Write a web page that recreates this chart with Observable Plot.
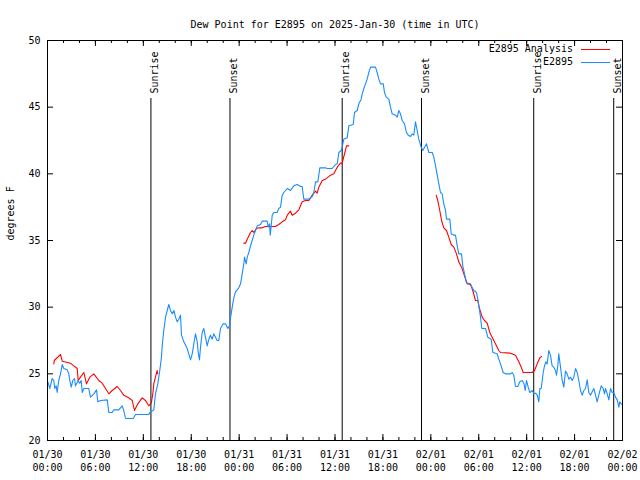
<!DOCTYPE html>
<html><head><meta charset="utf-8">
<script src="https://cdn.jsdelivr.net/npm/d3@7"></script>
<script src="https://cdn.jsdelivr.net/npm/@observablehq/plot@0.6"></script>
<style>
body{margin:0;background:#fff;}
#wrap{position:relative;width:640px;height:480px;font-family:"DejaVu Sans Mono",monospace;}
#legend{position:absolute;left:0;top:0;pointer-events:none;}
</style></head><body><div id="wrap"></div>
<script>
const title = "Dew Point for E2895 on 2025-Jan-30 (time in UTC)";
const yLabel = "degrees F";
const seriesNames = ["E2895 Analysis", "E2895"];
const seriesColors = ["#ff0000", "#1a8cff"];
const startTime = "2025-01-30T00:00:00Z";
const endTime = "2025-02-02T00:00:00Z";
const yTicks = [20, 25, 30, 35, 40, 45, 50];
const eventNames = ["Sunrise", "Sunset", "Sunrise", "Sunset", "Sunrise", "Sunset"];
const eventTimes = ["2025-01-30T12:57Z", "2025-01-30T22:51Z", "2025-01-31T12:54Z", "2025-01-31T22:50Z", "2025-02-01T12:53Z", "2025-02-01T22:54Z"];

// hours since 2025-01-30 00:00 UTC
const blueHours = [0.05,0.29,0.59,0.79,0.91,1.09,1.21,1.41,1.63,1.84,2.04,2.47,2.67,2.79,2.97,3.17,3.38,3.51,3.84,4.04,4.22,4.35,4.55,5.17,5.38,5.80,6.14,6.30,6.64,7.48,7.68,8.10,8.30,8.93,9.35,9.55,9.77,10.73,11.02,12.68,12.81,13.31,13.52,13.81,14.06,14.27,14.36,14.56,14.78,14.99,15.19,15.40,15.61,15.82,16.03,16.24,16.44,16.65,16.78,17.07,17.49,17.69,17.91,18.12,18.32,18.53,18.75,18.87,19.03,19.16,19.37,19.57,19.78,20.00,20.20,20.41,20.62,20.82,21.04,21.25,21.45,21.66,22.00,22.29,22.58,22.79,22.92,23.13,23.33,23.54,23.95,24.17,24.38,24.58,24.67,24.88,25.01,25.21,25.42,25.63,25.83,26.05,26.26,26.67,26.88,27.51,27.64,27.80,27.89,28.01,28.14,28.34,28.76,28.96,29.18,29.39,29.59,30.02,30.43,30.84,31.27,31.68,31.89,32.09,32.72,33.15,33.35,33.56,33.85,34.10,34.81,35.02,35.65,36.06,36.28,36.48,36.78,36.90,37.10,37.53,37.73,38.28,38.44,38.78,38.98,39.28,39.41,39.61,39.82,40.03,40.23,40.45,41.07,41.28,41.49,41.70,42.04,42.20,42.41,42.74,42.95,43.16,43.58,43.79,43.99,44.20,44.41,44.70,44.95,45.17,45.45,45.67,45.87,46.08,46.29,46.49,46.79,46.99,47.46,47.75,48.17,48.37,48.59,48.80,49.00,49.21,49.42,49.62,49.84,49.96,50.38,50.55,50.88,51.09,51.30,51.50,51.84,52.00,52.22,52.43,52.75,53.06,53.38,53.72,53.88,54.06,54.22,54.38,54.85,55.13,55.56,55.76,56.31,56.51,56.72,57.06,57.35,57.98,58.19,58.39,58.60,58.89,59.14,59.44,59.64,59.82,59.98,60.19,60.39,60.69,60.89,61.11,61.32,61.52,61.65,61.82,62.07,62.23,62.40,62.57,62.77,62.98,63.19,63.39,63.61,63.73,63.90,64.02,64.24,64.45,64.65,64.86,65.07,65.28,65.49,65.70,65.90,66.12,66.33,66.53,66.74,66.96,67.16,67.37,67.58,67.78,67.99,68.41,68.62,68.83,69.03,69.33,69.58,69.75,69.87,70.09,70.29,70.50,70.71,70.91,71.12,71.34,71.54,71.66,71.84,71.95];
const blueValues = [24.4,23.9,24.65,24.5,23.9,24.1,23.6,24.5,25.0,25.7,25.4,25.3,25.0,24.5,24.0,24.5,24.65,24.1,24.5,24.3,24.5,23.6,23.9,23.9,23.25,23.5,23.8,22.9,23.0,23.05,22.1,22.1,22.3,22.3,22.6,22.25,21.65,21.65,21.95,21.95,22.1,22.3,23.5,24.25,25.25,26.25,27.1,28.25,29.25,29.75,30.2,29.75,29.5,29.75,29.25,28.9,29.1,29.4,27.9,27.4,26.9,26.5,26.05,26.5,27.25,28.0,27.4,26.6,26.05,27.0,28.1,28.4,27.75,27.1,27.6,27.9,27.6,28.0,27.75,27.5,27.5,28.4,28.75,28.75,28.4,28.6,29.2,30.0,30.7,31.15,31.45,31.75,32.5,33.25,33.75,33.25,33.75,34.1,34.6,35.0,35.4,35.75,36.1,36.2,36.45,36.45,36.0,36.25,35.4,36.1,36.9,37.1,37.1,37.4,37.5,38.4,38.6,38.9,38.75,39.1,39.2,39.05,39.05,38.1,38.1,38.3,38.6,39.4,39.4,40.45,40.45,40.4,40.4,40.7,40.75,41.6,41.75,42.0,42.6,42.7,43.6,43.7,44.6,44.75,45.25,45.6,46.0,46.4,46.75,47.1,47.6,48.0,48.0,47.6,47.1,46.75,46.75,46.1,45.75,45.6,45.0,44.5,44.4,44.25,44.75,44.5,44.0,43.75,43.1,42.9,42.8,43.0,42.9,43.9,43.25,42.6,42.0,41.75,42.25,41.6,41.6,41.25,40.6,39.9,39.25,38.6,38.5,37.75,37.25,36.6,36.6,35.5,35.4,35.4,34.6,34.0,34.0,33.1,32.5,31.9,31.75,31.6,31.25,31.1,30.6,29.9,29.25,28.4,28.4,27.75,27.6,26.6,26.5,26.1,25.75,25.1,25.0,25.0,25.1,24.9,24.05,24.05,24.4,24.5,24.3,23.75,24.5,24.0,23.6,23.75,23.5,23.55,23.4,22.9,23.9,23.9,25.1,25.6,25.9,25.75,26.75,26.4,25.6,25.5,25.25,24.9,25.6,26.5,25.5,24.5,24.0,25.2,25.0,24.6,24.75,24.5,24.75,25.4,25.1,24.5,23.75,23.4,23.75,23.9,24.55,23.6,23.4,23.9,23.4,22.9,23.4,24.1,23.9,23.5,23.9,23.5,23.05,23.9,23.6,23.6,23.25,23.05,22.5,22.9,22.75,22.7];

const redHours = [0.79,0.85,1.63,1.84,2.88,3.29,3.72,3.84,4.13,4.55,4.88,5.30,5.80,6.42,6.85,7.68,8.10,8.73,9.14,9.55,10.18,10.61,10.89,11.31,11.86,12.27,12.68,12.99,13.19,13.31,13.52,13.73,13.81,
  18.0,
  24.58,24.79,25.01,25.42,25.63,25.83,26.17,26.46,26.88,27.30,28.55,28.96,29.39,29.80,30.02,30.43,30.64,31.06,31.47,31.89,32.31,32.72,33.15,33.56,33.77,33.97,34.40,34.81,35.44,35.85,36.28,36.69,36.90,37.19,37.44,37.73,
  42.0,
  48.67,48.87,49.12,49.34,49.62,49.96,50.25,50.55,50.88,51.21,51.50,51.84,52.13,52.55,52.96,53.25,53.59,53.88,54.09,54.43,54.72,55.06,55.38,55.68,56.09,56.51,56.72,57.98,58.60,59.02,59.32,59.57,60.69,60.98,61.32,61.65,61.86];
const redValues = [25.75,26.0,26.45,25.95,25.8,25.6,25.4,24.5,24.75,25.1,24.25,24.75,25.0,24.5,24.3,23.5,23.75,24.05,23.75,23.4,23.2,23.0,22.25,22.75,23.2,23.0,22.6,22.8,23.5,24.25,24.75,25.25,25.0,
  NaN,
  34.8,34.8,35.1,35.6,35.75,35.6,35.9,35.95,35.95,36.05,36.05,36.2,36.4,36.55,36.9,37.2,36.9,37.05,37.3,37.9,38.0,38.0,38.4,38.7,38.55,39.0,39.5,39.6,39.9,40.0,40.5,40.8,40.8,41.5,42.1,42.1,
  NaN,
  38.4,38.0,37.25,36.5,35.95,35.75,35.25,34.7,34.5,34.0,33.4,33.0,32.5,31.75,31.75,31.25,30.5,30.5,29.9,29.25,29.0,28.8,28.1,27.75,27.25,26.75,26.6,26.55,26.4,25.9,25.5,25.1,25.1,25.25,25.75,26.2,26.3];

const t0 = new Date(startTime), t1 = new Date(endTime);
const toDate = h => new Date(+t0 + h * 3600e3);
const blue = blueHours.map((h, i) => ({t: toDate(h), v: blueValues[i]}));
const red = redHours.map((h, i) => ({t: toDate(h), v: redValues[i]}));
const events = eventNames.map((n, i) => ({name: n, t: new Date(eventTimes[i])}));
const majorTicks = d3.utcHour.every(6).range(t0, new Date(+t1 + 1));
const minorTicks = d3.utcHour.every(2).range(t0, new Date(+t1 + 1));

const W = 640, H = 480, mL = 47, mR = 18, mT = 40, mB = 40;
const innerW = W - mL - mR, innerH = H - mT - mB;
const font = "DejaVu Sans Mono, monospace";

const chart = Plot.plot({
  width: W, height: H,
  marginTop: mT, marginBottom: mB, marginLeft: mL, marginRight: mR,
  style: {fontFamily: font, fontSize: "10px", color: "#000", background: "#fff"},
  x: {type: "utc", domain: [t0, t1]},
  y: {domain: [20, 50]},
  marks: [
    Plot.axisX({ticks: majorTicks, tickSize: 0, tickPadding: 8, tickFormat: d3.utcFormat("%m/%d\n%H:%M"), label: null, lineHeight: 1.3, fill: "#000"}),
    Plot.axisY({ticks: yTicks, tickSize: 0, tickPadding: 7, label: null, fill: "#000"}),
    // inward ticks (gnuplot style) on all four sides
    Plot.ruleX(majorTicks, {x: d => d, insetTop: innerH - 6, stroke: "#000"}),
    Plot.ruleX(minorTicks, {x: d => d, insetTop: innerH - 3, stroke: "#000"}),
    Plot.ruleX(majorTicks, {x: d => d, insetBottom: innerH - 6, stroke: "#000"}),
    Plot.ruleX(minorTicks, {x: d => d, insetBottom: innerH - 3, stroke: "#000"}),
    Plot.ruleY(yTicks, {y: d => d, insetRight: innerW - 6, stroke: "#000"}),
    Plot.ruleY(yTicks, {y: d => d, insetLeft: innerW - 6, stroke: "#000"}),
    // sunrise / sunset
    Plot.ruleX(events, {x: "t", insetTop: 58, stroke: "#000"}),
    Plot.text(events, {x: "t", text: "name", frameAnchor: "top", dy: 53, rotate: -90, textAnchor: "start", fill: "#000"}),
    // series
    Plot.line(red, {x: "t", y: "v", stroke: seriesColors[0], strokeWidth: 1.1}),
    Plot.line(blue, {x: "t", y: "v", stroke: seriesColors[1], strokeWidth: 1.1}),
    Plot.frame({stroke: "#000"}),
    Plot.text([title], {frameAnchor: "top", dy: -20, fill: "#000"}),
    Plot.text([yLabel], {frameAnchor: "left", dx: -37, rotate: -90, fill: "#000"})
  ]
});
const wrap = document.getElementById("wrap");
wrap.appendChild(chart);

// legend (top right, gnuplot style)
const ns = "http://www.w3.org/2000/svg";
const leg = document.createElementNS(ns, "svg");
leg.setAttribute("id", "legend");
leg.setAttribute("width", W); leg.setAttribute("height", H);
seriesNames.forEach((name, i) => {
  const y = 49 + i * 13;
  const t = document.createElementNS(ns, "text");
  t.setAttribute("x", 573); t.setAttribute("y", y);
  t.setAttribute("text-anchor", "end"); t.setAttribute("dominant-baseline", "middle");
  t.setAttribute("font-family", font); t.setAttribute("font-size", "10");
  t.textContent = name;
  leg.appendChild(t);
  const l = document.createElementNS(ns, "line");
  l.setAttribute("x1", 581); l.setAttribute("x2", 610);
  l.setAttribute("y1", y + 0.5); l.setAttribute("y2", y + 0.5);
  l.setAttribute("stroke", seriesColors[i]); l.setAttribute("stroke-width", 1);
  leg.appendChild(l);
});
wrap.appendChild(leg);
</script></body></html>
